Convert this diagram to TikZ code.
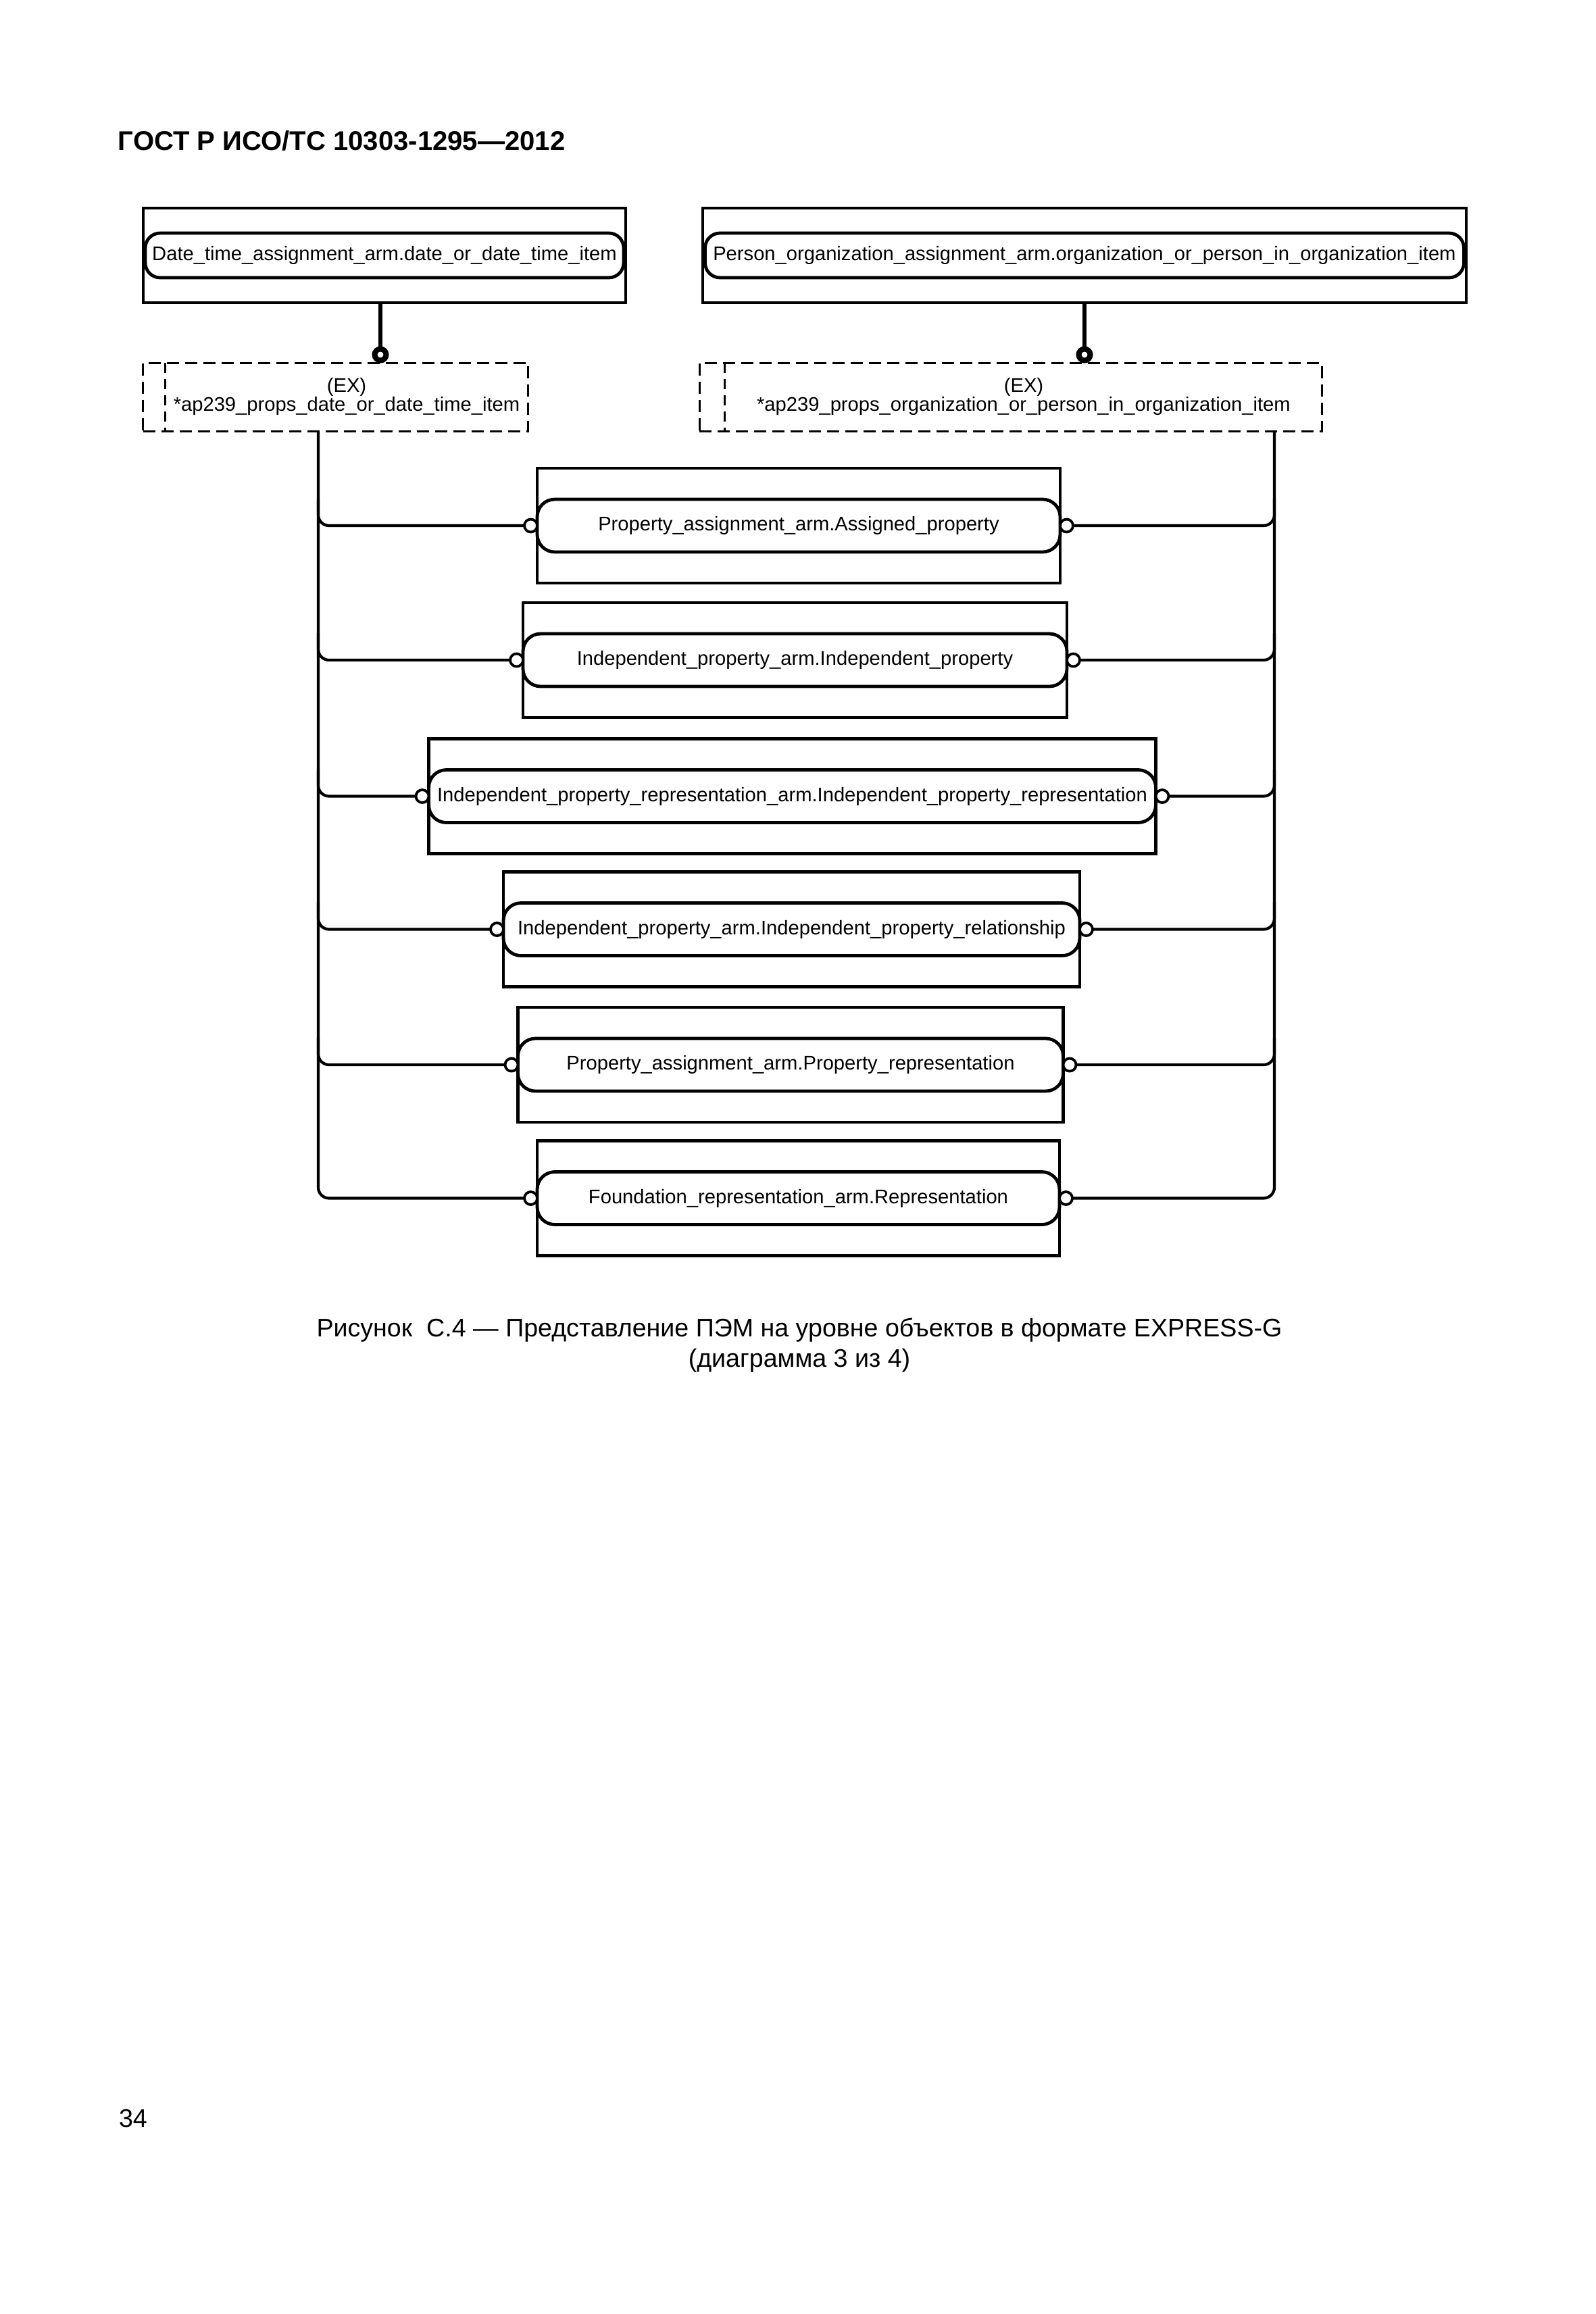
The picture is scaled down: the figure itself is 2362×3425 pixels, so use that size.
\documentclass[tikz,border=0pt]{standalone}
\usepackage{fontspec}
\setmainfont{Liberation Sans}
\begin{document}
\begin{tikzpicture}[x=0.1mm,y=-0.1mm,
  every node/.style={font=\fontsize{8.3}{7.8}\selectfont, inner sep=0pt, outer sep=0pt},
  outerbox/.style={draw, line width=0.42mm, minimum height=17mm},
  entity/.style={draw, line width=0.48mm, rounded corners=2.6mm, minimum height=7.8mm, fill=white},
  ring/.style={circle, draw, line width=0.38mm, minimum size=1.9mm, fill=white},
  topring/.style={circle, draw, line width=0.8mm, minimum size=1.7mm, fill=white},
  exbox/.style={draw, line width=0.3mm, dash pattern=on 1.8mm off 0.9mm, minimum height=10.1mm},
  exline/.style={line width=0.3mm, dash pattern=on 1.5mm off 0.9mm},
  link/.style={line width=0.6mm},
  bus/.style={line width=0.42mm, rounded corners=1.6mm},
  captext/.style={font=\fontsize{10.7}{13}\selectfont},
]
\useasboundingbox (0,0) rectangle (2362,3425);

% header
\node[font=\fontsize{11.4}{14}\selectfont\bfseries, anchor=base west] (hdr) at (175,222) {ГОСТ Р ИСО/ТС 10303-1295—2012};

% top entities
\node[outerbox, minimum width=71.4mm, minimum height=14mm] (dto) at (569,378) {};
\node[entity, minimum width=70.8mm, minimum height=6.6mm, rounded corners=2.2mm] (dt) at (dto) {Date\_time\_assignment\_arm.date\_or\_date\_time\_item};
\node[outerbox, minimum width=113.0mm, minimum height=14mm] (pso) at (1605,378) {};
\node[entity, minimum width=112.3mm, minimum height=6.6mm, rounded corners=2.2mm] (ps) at (pso) {Person\_organization\_assignment\_arm.organization\_or\_person\_in\_organization\_item};

% dashed (extensible select) boxes
\node[exbox, minimum width=57.0mm] (exdt) at (496.5,587.5) {};
\draw[exline] ([xshift=3.3mm]exdt.north west) -- ([xshift=3.3mm]exdt.south west);
\node[align=center] (exdtt) at (513,587) {(EX)\\*ap239\_props\_date\_or\_date\_time\_item};
\node[exbox, minimum width=92.1mm] (exps) at (1495.5,587.5) {};
\draw[exline] ([xshift=3.7mm]exps.north west) -- ([xshift=3.7mm]exps.south west);
\node[align=center] (expst) at (1515,587) {(EX)\\*ap239\_props\_organization\_or\_person\_in\_organization\_item};

% rings + links at the top
\node[topring] (rdt) at (563,525) {};
\draw[link] (dto.south -| rdt) -- (rdt.north);
\node[topring] (rps) at (1605,525) {};
\draw[link] (pso.south -| rps) -- (rps.north);

% rows
\node[outerbox, minimum width=77.4mm] (o1) at (1182,778) {};
\node[entity, minimum width=77.4mm] (e1) at (o1) {Property\_assignment\_arm.Assigned\_property};
\node[outerbox, minimum width=80.5mm] (o2) at (1176.5,977) {};
\node[entity, minimum width=80.5mm] (e2) at (o2) {Independent\_property\_arm.Independent\_property};
\node[outerbox, minimum width=107.6mm] (o3) at (1172.5,1178.5) {};
\node[entity, minimum width=107.6mm] (e3) at (o3) {Independent\_property\_representation\_arm.Independent\_property\_representation};
\node[outerbox, minimum width=85.3mm] (o4) at (1171.5,1375.5) {};
\node[entity, minimum width=85.3mm] (e4) at (o4) {Independent\_property\_arm.Independent\_property\_relationship};
\node[outerbox, minimum width=80.7mm] (o5) at (1170,1576) {};
\node[entity, minimum width=80.7mm] (e5) at (o5) {Property\_assignment\_arm.Property\_representation};
\node[outerbox, minimum width=77.3mm] (o6) at (1181.5,1773.5) {};
\node[entity, minimum width=77.3mm] (e6) at (o6) {Foundation\_representation\_arm.Representation};

\foreach \i in {1,...,6}{
  \node[ring, anchor=east] (l\i) at (e\i.west) {};
  \node[ring, anchor=west] (q\i) at (e\i.east) {};
}

% buses
\coordinate (busL) at (471,638);
\coordinate (busR) at (1886,638);
\draw[bus] (busL) |- (l6.west);
\draw[bus] (busR) |- (q6.east);
\foreach \i in {1,...,5}{
  \draw[bus] (busL |- l\i.west) ++(0,-40) |- (l\i.west);
  \draw[bus] (busR |- q\i.east) ++(0,-40) |- (q\i.east);
}

% caption
\node[captext, anchor=base] (cap1) at (1183,1978) {Рисунок\ \ С.4 — Представление ПЭМ на уровне объектов в формате EXPRESS-G};
\node[captext, anchor=base] (cap2) at (1183,2023) {(диаграмма 3 из 4)};

% page number
\node[captext, anchor=base west] (pg) at (176,3148) {34};
\end{tikzpicture}
\end{document}
